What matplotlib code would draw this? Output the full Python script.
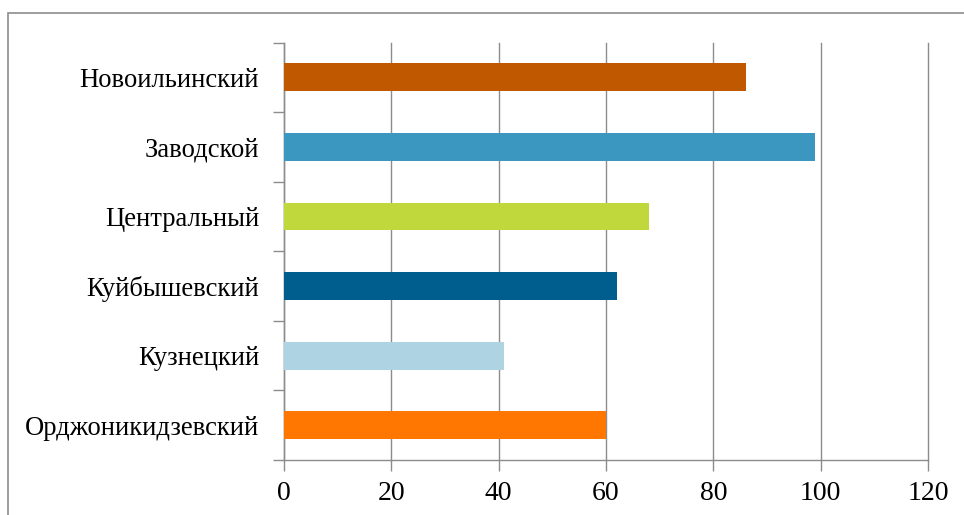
import matplotlib
matplotlib.use("Agg")
from matplotlib import pyplot as plt
from matplotlib.patches import Rectangle
from matplotlib.ticker import FixedLocator

districts = ["Орджоникидзевский", "Кузнецкий", "Куйбышевский",
             "Центральный", "Заводской", "Новоильинский"]
values = [60, 41, 62, 68, 99, 86]
colors = ["#FF7700", "#AED4E3", "#005E8E", "#C0D83C", "#3B96C0", "#C05800"]
x_ticks = [0, 20, 40, 60, 80, 100, 120]

plt.rcParams["font.family"] = ["Liberation Serif", "DejaVu Serif"]

fig = plt.figure(figsize=(9.64, 5.15), dpi=100)
ax = fig.add_axes([284 / 964, 55 / 515, 644 / 964, 417.5 / 515])

# рамка вокруг диаграммы
fig.patches.append(Rectangle((8 / 964, -0.1), 1.2, (515 - 13) / 515 + 0.1,
                             transform=fig.transFigure, fill=False,
                             edgecolor="#8c8c8c", linewidth=1.2))

ypos = range(len(districts))
ax.barh(ypos, values, height=0.4, color=colors, zorder=3)

ax.set_xlim(0, 120)
ax.set_ylim(-0.5, len(districts) - 0.5)
ax.set_xticks(x_ticks)
ax.set_yticks(list(ypos))
ax.set_yticklabels(districts, fontsize=19.2)
ax.yaxis.set_minor_locator(FixedLocator([i - 0.5 for i in range(len(districts) + 1)]))

ax.tick_params(axis="y", which="major", length=0, pad=18)
ax.tick_params(axis="y", which="minor", length=8, color="#8c8c8c", width=1)
ax.tick_params(axis="x", length=8, color="#8c8c8c", width=1, labelsize=20, pad=7)

ax.grid(axis="x", color="#8c8c8c", linewidth=1, zorder=0)
for line in ax.get_xgridlines():
    line.set_clip_on(False)
for side in ["top", "right"]:
    ax.spines[side].set_visible(False)
for side in ["left", "bottom"]:
    ax.spines[side].set_color("#8c8c8c")
    ax.spines[side].set_linewidth(1)

fig.savefig("out.png", dpi=100)
